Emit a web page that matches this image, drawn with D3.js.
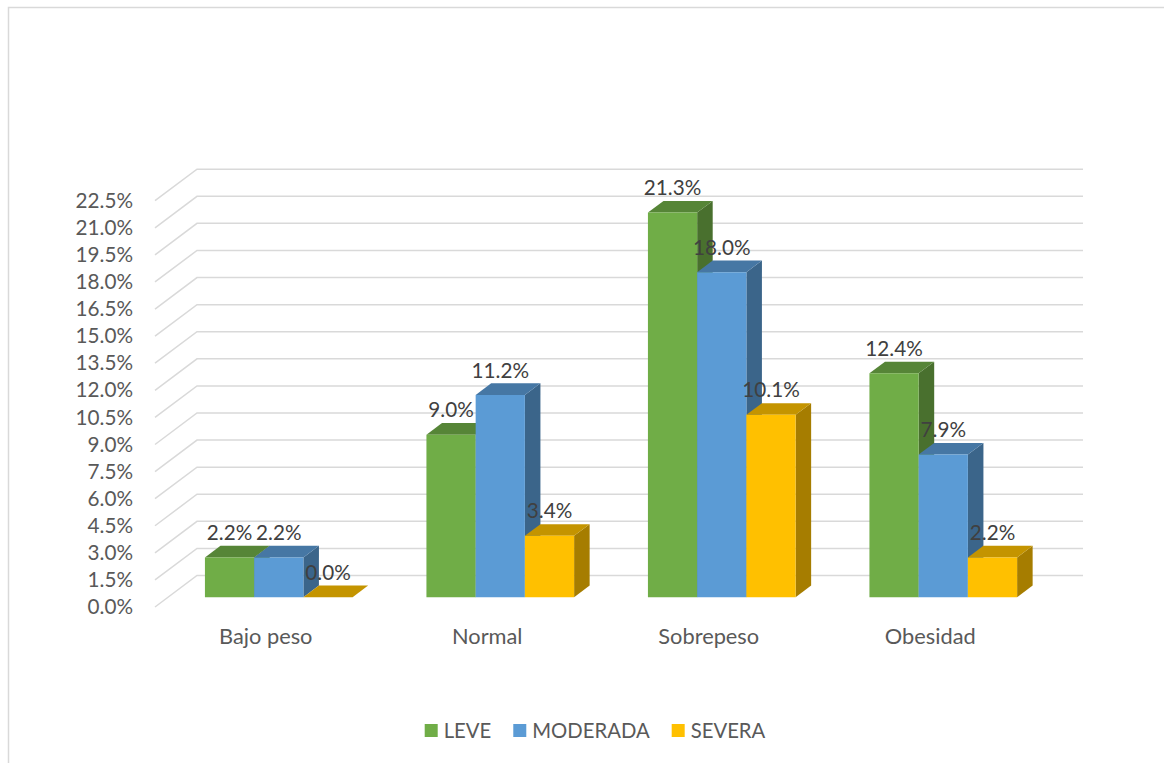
<!DOCTYPE html>
<html>
<head>
<meta charset="utf-8">
<script src="https://cdn.jsdelivr.net/npm/d3@7"></script>
<style>
  html, body { margin: 0; padding: 0; background: #fff; }
  svg { display: block; font-family: Lato, "Open Sans", sans-serif; }
</style>
</head>
<body>
<svg id="chart" width="1164" height="763"></svg>
<script>
// Categories and series
const categories = ["Bajo peso", "Normal", "Sobrepeso", "Obesidad"];
const seriesNames = ["LEVE", "MODERADA", "SEVERA"];
const leve = [2.2, 9.0, 21.3, 12.4];
const moderada = [2.2, 11.2, 18.0, 7.9];
const severa = [0.0, 3.4, 10.1, 2.2];
const yTicks = [0, 1.5, 3, 4.5, 6, 7.5, 9, 10.5, 12, 13.5, 15, 16.5, 18, 19.5, 21, 22.5];
const seriesColors = ["#70AD47", "#5B9BD5", "#FFC000"];

const seriesValues = [leve, moderada, severa];

const svg = d3.select("#chart");

// Outer chart frame
svg.append("rect")
  .attr("x", 8.5).attr("y", 7.5)
  .attr("width", 1170).attr("height", 770)
  .attr("fill", "none").attr("stroke", "#d9d9d9").attr("stroke-width", 1.5);

// Oblique 3D projection: depth vector for z in [0,1]
const depth = { dx: 42, dy: -31.5 };
const barZ0 = 0.31, barZ1 = 0.68;
const proj = (x, y, z) => [x + depth.dx * z, y + depth.dy * z];

// Scales on the front plane
const x0 = d3.scaleBand().domain(categories).range([155, 1041]).paddingInner(0).paddingOuter(0);
const x1 = d3.scaleBand().domain(seriesNames).range([0, x0.bandwidth()]).paddingInner(0).paddingOuter(0.75);
const y = d3.scaleLinear().domain([0, 22.5]).range([607, 200.7]);

// Wall gridlines: side wall diagonal + back wall horizontal
const grid = svg.append("g").attr("fill", "none").attr("stroke", "#d9d9d9").attr("stroke-width", 1.5);
yTicks.forEach(t => {
  const xL = x0.range()[0], xR = x0.range()[1];
  const a = proj(xL, y(t), 0), b = proj(xL, y(t), 1), c = proj(xR, y(t), 1);
  grid.append("path").attr("d", d3.line()([a, b, c]));
});

// Value axis labels
const axis = d3.axisLeft(y)
  .tickValues(yTicks)
  .tickSize(0)
  .tickPadding(0)
  .tickFormat(d => d.toFixed(1) + "%");
const axisG = svg.append("g").attr("transform", "translate(133,0)").call(axis);
axisG.select(".domain").remove();
axisG.selectAll("text")
  .attr("font-family", "Lato, sans-serif")
  .attr("font-size", 20.7)
  .attr("fill", "#595959");

// Category labels
svg.append("g").selectAll("text")
  .data(categories)
  .join("text")
  .attr("x", d => x0(d) + x0.bandwidth() / 2)
  .attr("y", 644)
  .attr("text-anchor", "middle")
  .attr("font-size", 21.8)
  .attr("fill", "#595959")
  .text(d => d);

// Bars as prisms
const bars = [];
categories.forEach((cat, ci) => {
  seriesNames.forEach((s, si) => {
    bars.push({ cat, s, si, value: seriesValues[si][ci] });
  });
});

const barsG = svg.append("g");
bars.forEach(b => {
  const base = d3.color(seriesColors[b.si]);
  const top = d3.rgb(base.r * 0.77, base.g * 0.77, base.b * 0.77);
  const side = d3.rgb(base.r * 0.65, base.g * 0.65, base.b * 0.65);
  const xl = x0(b.cat) + x1(b.s);
  const xr = xl + x1.bandwidth();
  const yb = y(0), yt = y(b.value);
  const g = barsG.append("g");
  const line = d3.line();
  // side face
  g.append("path").attr("fill", side).attr("d", line([
    proj(xr, yb, barZ0), proj(xr, yb, barZ1), proj(xr, yt, barZ1), proj(xr, yt, barZ0)
  ]) + "Z");
  // top face
  g.append("path").attr("fill", top).attr("d", line([
    proj(xl, yt, barZ0), proj(xr, yt, barZ0), proj(xr, yt, barZ1), proj(xl, yt, barZ1)
  ]) + "Z");
  // front face
  if (b.value > 0) {
    g.append("path").attr("fill", base.formatHex()).attr("d", line([
      proj(xl, yb, barZ0), proj(xr, yb, barZ0), proj(xr, yt, barZ0), proj(xl, yt, barZ0)
    ]) + "Z");
  }
  b.labelX = proj((xl + xr) / 2, yt, barZ0)[0];
  b.labelY = proj(xl, yt, barZ1)[1] - 13;
});

// Data labels
svg.append("g").selectAll("text")
  .data(bars)
  .join("text")
  .attr("x", d => d.labelX)
  .attr("y", d => d.labelY)
  .attr("dy", "0.35em")
  .attr("text-anchor", "middle")
  .attr("font-size", 20.7)
  .attr("fill", "#404040")
  .text(d => d.value.toFixed(1) + "%");

// Legend
const legend = svg.append("g");
let lx = 0;
const items = seriesNames.map((name, i) => {
  const g = legend.append("g");
  g.append("rect").attr("x", 0).attr("y", -7).attr("width", 13).attr("height", 13).attr("fill", seriesColors[i]);
  const t = g.append("text").attr("x", 19).attr("y", 0).attr("dy", "0.35em")
    .attr("font-size", 20.3).attr("fill", "#595959").text(name);
  const w = 19 + t.node().getComputedTextLength();
  g.attr("transform", `translate(${lx},731)`);
  lx += w + 22;
  return g;
});
const totalW = lx - 22;
legend.attr("transform", `translate(${595 - totalW / 2},0)`);
</script>
</body>
</html>
